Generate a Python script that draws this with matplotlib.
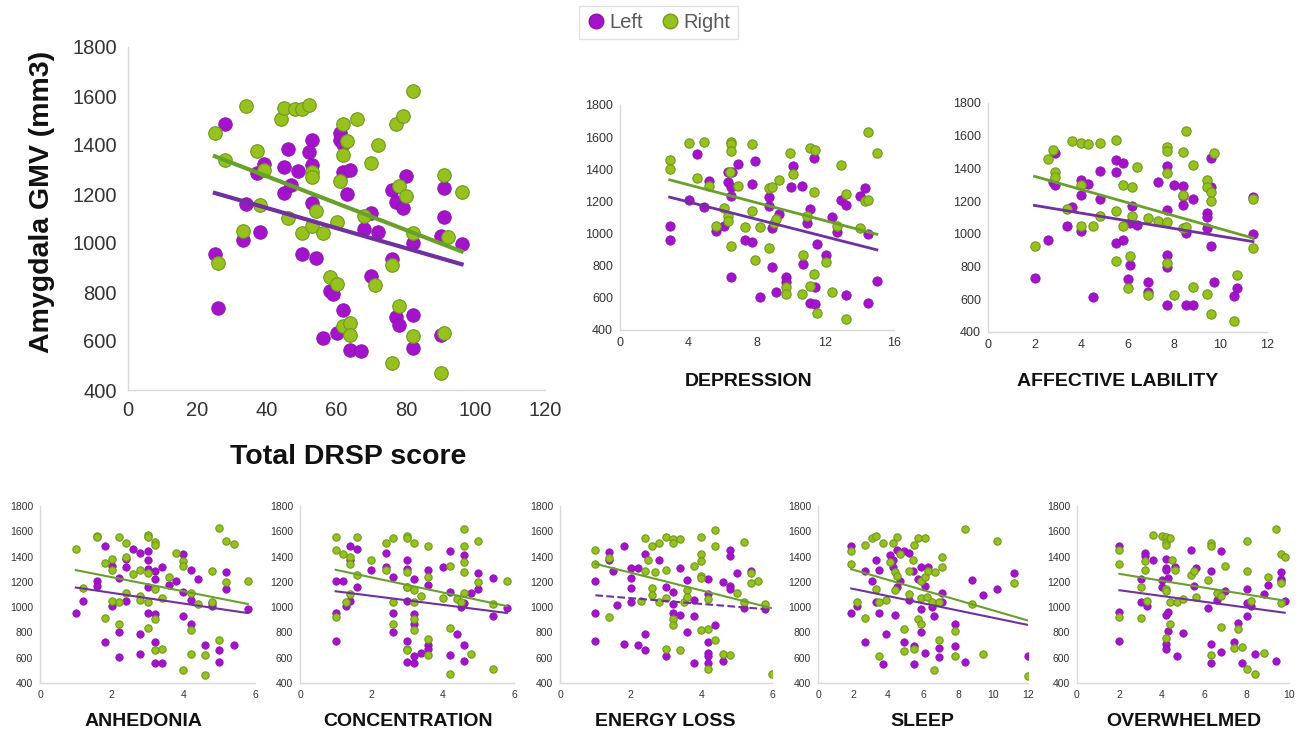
import numpy as np
import matplotlib
matplotlib.use('Agg')
import matplotlib.pyplot as plt
from matplotlib.lines import Line2D

plt.rcParams['font.family'] = ['Liberation Sans', 'DejaVu Sans']

# ---- data (x score, GMV) ----
total_left_x = [28, 25, 26, 34, 33, 38, 37, 39, 45, 46, 45, 47, 49, 53, 52, 53, 53, 50, 54, 56, 58, 59,
                61, 61, 62, 62, 64, 63, 62, 60, 64, 67, 70, 72, 68, 70, 76, 77, 79, 80, 76, 77, 78, 82,
                82, 82, 91, 91, 90, 90, 96]
total_left_y = [1487, 957, 733, 1161, 1012, 1046, 1284, 1322, 1311, 1383, 1206, 1236, 1294, 1422, 1372,
                1318, 1165, 957, 940, 611, 805, 792, 1447, 1419, 1406, 1290, 1297, 1202, 726, 634, 563,
                559, 1123, 1046, 1059, 865, 1218, 1168, 1141, 1273, 933, 699, 665, 706, 570, 1001, 1107,
                1224, 1028, 624, 994]
total_right_x = [25, 26, 28, 34, 33, 37, 39, 38, 44, 45, 48, 50, 52, 46, 50, 53, 53, 54, 53, 56, 58, 60,
                 60, 61, 62, 63, 62, 62, 64, 64, 66, 70, 72, 68, 71, 77, 79, 82, 78, 80, 76, 78, 76, 82,
                 82, 91, 92, 96, 91, 90]
total_right_y = [1449, 919, 1338, 1558, 1048, 1376, 1297, 1154, 1508, 1553, 1545, 1546, 1562, 1104, 1039,
                 1290, 1270, 1130, 1070, 1039, 862, 831, 1086, 1252, 1485, 1416, 1361, 661, 672, 624, 1508,
                 1328, 1399, 1110, 827, 1485, 1520, 1619, 1234, 1192, 912, 742, 509, 620, 1042, 1279, 1023,
                 1209, 631, 471]

dep_left_x = [2.9, 2.9, 4, 4.5, 4.9, 5.2, 5.6, 6.1, 6.3, 6.3, 6.5, 6.55, 6.5, 6.5, 6.9, 7.3, 7.7, 7.7, 7.9,
              8.2, 8.7, 8.7, 8.9, 8.9, 9.1, 9.3, 9.7, 9.7, 10, 10.1, 10.6, 10.7, 10.9, 11.1, 11.1, 11.3,
              11.4, 11.4, 11.5, 12, 12.4, 12.7, 12.9, 13.2, 13.2, 14, 14.3, 14.5, 14.5, 15]
dep_left_y = [1049, 960, 1209, 1493, 1167, 1329, 1018, 1049, 1385, 1323, 1292, 1381, 1234, 727, 1433, 960,
              1306, 945, 1454, 607, 1225, 1171, 1032, 794, 638, 1122, 732, 700, 1292, 1420, 1298, 808,
              1063, 1151, 566, 1468, 669, 562, 935, 866, 1105, 1008, 1209, 1178, 617, 1234, 1281, 997,
              570, 705]
dep_right_x = [2.9, 2.9, 4, 4.5, 4.9, 5.2, 5.6, 6.1, 6.3, 6.3, 6.4, 6.5, 6.5, 6.5, 6.5, 6.9, 7.3, 7.7, 7.7,
               7.9, 8.2, 8.7, 8.9, 8.7, 9, 9.1, 9.3, 9.7, 9.7, 9.9, 10.1, 10.6, 10.7, 10.9, 11.1, 11.4,
               11.3, 11.1, 11.3, 11.5, 12, 12.4, 12.7, 12.9, 13.2, 13.2, 14, 14.3, 14.5, 14.5, 15]
dep_right_y = [1458, 1402, 1561, 1348, 1568, 1298, 1049, 1157, 1109, 1078, 1385, 1572, 1555, 1514, 924,
               1298, 1043, 1555, 1142, 835, 1043, 1281, 1288, 912, 1068, 1090, 1333, 665, 624, 1499, 1371,
               624, 866, 1111, 1530, 1520, 1261, 676, 748, 503, 821, 634, 1047, 1427, 1244, 466, 1032,
               1205, 1209, 1630, 1499]

aff_left_x = [2, 2.6, 2.8, 2.9, 2.9, 3.4, 3.6, 4, 4, 4, 4.3, 4.5, 4.8, 4.8, 5.5, 5.5, 5.8, 5.5, 5.8, 6,
              6.1, 6.2, 6.1, 6.4, 6.9, 6.9, 7.3, 7.7, 7.7, 7.7, 7.7, 7.7, 8, 8.4, 8.4, 8.4, 8.5, 8.5, 8.8,
              8.8, 9.4, 9.4, 9.4, 9.6, 9.6, 9.6, 9.7, 10.6, 10.7, 11.4, 11.4]
aff_left_y = [733, 962, 1320, 1493, 1299, 1048, 1162, 1330, 1238, 1019, 1305, 611, 1385, 1211, 1453, 1381,
              1432, 946, 962, 727, 809, 1173, 1064, 1054, 707, 645, 1316, 1416, 1146, 870, 799, 564, 1299,
              1293, 1177, 1232, 1003, 568, 564, 1211, 1126, 1105, 1034, 1463, 1285, 927, 707, 621, 666,
              1228, 997]
aff_right_x = [2, 2.6, 2.8, 2.9, 2.9, 3.4, 3.6, 4, 4, 4, 4.3, 4.5, 4.8, 4.8, 5.5, 5.5, 5.5, 5.8, 5.8, 6,
               6.1, 6.2, 6.2, 6.4, 6.9, 6.9, 7.3, 7.7, 7.7, 7.7, 7.7, 7.7, 8, 8.4, 8.4, 8.4, 8.5, 8.5,
               8.8, 8.8, 9.4, 9.4, 9.4, 9.6, 9.6, 9.6, 9.7, 10.6, 10.7, 11.4, 11.4]
aff_right_y = [925, 1459, 1514, 1381, 1346, 1152, 1569, 1555, 1299, 1050, 1551, 1048, 1555, 1111, 1575,
               1142, 835, 1299, 1048, 666, 866, 1285, 1109, 1406, 1095, 625, 1081, 1530, 1508, 1371, 1070,
               823, 625, 1498, 1238, 1034, 1044, 1626, 1422, 676, 1330, 1285, 635, 1258, 1201, 508, 1493,
               467, 747, 1211, 915]

anh_left_x = [1, 1.2, 1.6, 1.6, 1.8, 1.8, 2, 2, 2.2, 2.2, 2.2, 2.4, 2.4, 2.4, 2.6, 2.8, 2.8, 2.8, 3, 3, 3,
              3, 3, 3.2, 3.2, 3.2, 3.2, 3.2, 3.4, 3.4, 3.6, 3.8, 4, 4, 4, 4.2, 4.2, 4.2, 4.4, 4.6, 4.8,
              4.8, 5, 5, 5.2, 5.2, 5.4, 5.8]
anh_left_y = [957, 1047, 1208, 1166, 1486, 725, 1325, 1010, 1232, 804, 606, 1380, 1314, 1047, 1459, 1430,
              786, 633, 1446, 1372, 1301, 1161, 957, 1288, 1222, 942, 725, 559, 559, 1314, 1174, 1206,
              1417, 1121, 931, 1293, 1060, 865, 1222, 699, 1010, 1029, 664, 566, 1280, 1142, 699, 989]
anh_right_x = [1, 1.2, 1.6, 1.6, 1.8, 1.8, 2, 2, 2, 2.2, 2.2, 2.2, 2.4, 2.4, 2.4, 2.6, 2.8, 2.8, 2.8, 3, 3,
               3, 3, 3, 3.2, 3.2, 3.2, 3.2, 3.2, 3.4, 3.4, 3.6, 3.8, 4, 4, 4, 4.2, 4.2, 4.2, 4.4, 4.6,
               4.6, 4.8, 4.8, 5, 5, 5.2, 5.2, 5.4, 5.8]
anh_right_y = [1457, 1153, 1565, 1552, 1346, 918, 1377, 1293, 1047, 1552, 865, 1042, 1509, 1398, 1108,
               1259, 1293, 1087, 1060, 1570, 1552, 1274, 1042, 836, 1512, 1491, 1140, 910, 664, 1076, 672,
               1240, 1425, 1364, 1325, 500, 1108, 817, 627, 1023, 619, 466, 1285, 1042, 1628, 743, 1525,
               1195, 1496, 1208]

con_left_x = [1, 1, 1, 1.2, 1.3, 1.4, 1.4, 1.4, 1.6, 1.6, 2, 2.4, 2.4, 2.6, 2.6, 2.6, 3, 3, 3, 3, 3, 3,
              3.2, 3.2, 3.2, 3.2, 3.2, 3.4, 3.6, 3.6, 3.6, 3.6, 4, 4.2, 4.2, 4.2, 4.4, 4.5, 4.6, 4.6,
              4.6, 4.6, 4.8, 5, 5, 5.4, 5.4, 5.8]
con_left_y = [1208, 957, 730, 1208, 1010, 1483, 1372, 1047, 1457, 1161, 1293, 1425, 1319, 1235, 957, 804,
              1372, 1298, 1161, 1047, 730, 566, 1222, 944, 865, 559, 614, 638, 1293, 1174, 704, 672,
              1314, 1443, 1121, 619, 791, 1002, 1412, 1034, 704, 572, 1108, 1274, 1142, 1227, 931, 994]
con_right_x = [1, 1, 1, 1.2, 1.3, 1.4, 1.4, 1.4, 1.6, 1.6, 2, 2.4, 2.4, 2.6, 2.6, 2.6, 3, 3, 3, 3, 3, 3,
               3.2, 3.2, 3.2, 3.2, 3.2, 3.4, 3.6, 3.6, 3.6, 3.6, 4, 4.2, 4.2, 4.2, 4.4, 4.5, 4.6, 4.6,
               4.6, 4.6, 4.6, 4.8, 5, 5, 5.4, 5.4, 5.8]
con_right_y = [1552, 1451, 923, 1417, 1042, 1398, 1340, 1103, 1557, 1253, 1372, 1504, 1293, 1549, 1042,
               865, 1565, 1549, 1280, 1161, 672, 659, 1509, 1134, 1042, 910, 817, 1089, 1486, 1235, 746,
               619, 1074, 1325, 836, 469, 1063, 1037, 1618, 1486, 1359, 1280, 1108, 633, 1523, 1195, 1023,
               514, 1208]

eng_left_x = [1, 1, 1, 1.4, 1.4, 1.5, 1.6, 1.8, 1.8, 2, 2, 2, 2, 2.2, 2.2, 2.4, 2.4, 2.4, 2.8, 3, 3,
              3.2, 3.2, 3.2, 3.4, 3.4, 3.6, 3.6, 3.8, 3.8, 3.8, 4.2, 4.2, 4.2, 4.2, 4.2, 4.2, 4.4, 4.6,
              4.6, 4.8, 4.8, 4.8, 4.8, 5, 5.2, 5.4, 5.8]
eng_left_y = [1206, 957, 730, 1438, 1372, 1285, 1015, 1483, 707, 1311, 1232, 1153, 1042, 1311, 699, 1417,
              791, 664, 1372, 1161, 614, 1121, 1023, 955, 1306, 936, 1214, 804, 1055, 928, 559, 1219,
              1103, 725, 638, 614, 561, 862, 1201, 572, 1451, 1406, 1169, 1142, 1267, 996, 1285, 989]
eng_right_x = [1, 1, 1.4, 1.4, 2.4, 2.4, 2.3, 2.5, 2.6, 2.6, 2.6, 2.8, 2.7, 2.8, 3, 3, 3, 3, 3.2, 3.2,
               3.2, 3.2, 3.4, 3.4, 3.5, 3.6, 3.6, 3.8, 4, 4, 4, 4, 4, 4, 4.2, 4.2, 4.2, 4.4, 4.4, 4.4,
               4.6, 4.8, 5, 5.2, 5.2, 5.4, 5.4, 5.6, 5.8, 6]
eng_right_y = [1451, 1340, 1390, 923, 1549, 1285, 1047, 1372, 1483, 1148, 1100, 1504, 1280, 1037, 1557,
               1293, 1074, 672, 1538, 1504, 910, 862, 1538, 664, 1037, 1134, 1082, 1325, 1557, 1417, 1364,
               1248, 1227, 817, 1063, 831, 508, 1610, 1483, 743, 633, 625, 1108, 1512, 1042, 1274, 1193,
               1206, 1023, 474]

slp_left_x = [1.9, 1.9, 2.2, 2.7, 2.7, 3.1, 3.3, 3.3, 3.5, 3.5, 3.7, 3.9, 4.1, 4.3, 4.3, 4.4, 4.5, 4.5,
              4.7, 4.9, 4.9, 5.2, 5.2, 5.4, 5.5, 5.5, 5.7, 5.9, 5.9, 5.9, 6.1, 6.1, 6.3, 6.5, 6.6, 6.9,
              6.9, 7.1, 7.1, 7.8, 7.8, 8.4, 8.8, 9.4, 10.2, 11.2, 12]
slp_left_y = [1482, 957, 1011, 1286, 728, 1205, 1375, 1043, 1294, 957, 553, 788, 1415, 1375, 1315, 938,
              1159, 1455, 1208, 1442, 723, 1428, 1057, 1286, 693, 553, 1226, 1315, 984, 804, 1167, 634,
              1321, 1003, 930, 680, 602, 1113, 1043, 863, 696, 567, 1218, 1097, 1140, 1272, 615]
slp_right_x = [1.9, 1.9, 2.2, 2.7, 2.7, 3.1, 3.3, 3.3, 3.5, 3.5, 3.7, 3.9, 4.1, 4.3, 4.4, 4.4, 4.5, 4.5,
               4.7, 4.9, 4.9, 5.2, 5.2, 5.4, 5.5, 5.5, 5.7, 5.7, 5.9, 5.9, 5.9, 6.1, 6.1, 6.2, 6.3, 6.5,
               6.6, 6.7, 6.9, 6.9, 7.1, 7.1, 7.8, 7.8, 8.4, 8.8, 9.4, 10.2, 11.2, 12]
slp_right_y = [1447, 1340, 1043, 1488, 917, 1544, 1563, 1146, 1038, 615, 1509, 1060, 1361, 1504, 1132,
               1280, 1558, 1248, 1420, 831, 656, 1288, 1105, 1375, 1488, 669, 1550, 909, 1208, 1073, 863,
               1544, 1235, 1078, 1286, 1038, 500, 1280, 1038, 742, 1393, 1321, 815, 615, 1617, 1025, 629,
               1523, 1191, 459]

ovw_left_x = [2, 2, 2, 3, 3, 3.2, 3.2, 3.3, 3.6, 4, 4, 4.2, 4.2, 4.2, 4.2, 4.2, 4.2, 4.3, 4.3, 4.3, 4.6,
              4.7, 5, 5.4, 5.6, 5.5, 6.2, 6.3, 6.3, 6.3, 6.6, 6.8, 6.8, 7, 7.6, 7.4, 7.8, 8, 8, 8, 8.2,
              8.4, 8.8, 9, 9.4, 9.6, 9.6, 9.6, 9.8]
ovw_left_y = [1487, 965, 734, 1225, 1044, 1429, 1402, 1012, 1376, 1211, 1158, 1381, 1310, 1291, 938, 707,
              665, 1230, 960, 814, 1318, 615, 792, 1455, 1310, 1164, 997, 1288, 705, 561, 1057, 1447, 642,
              1124, 872, 726, 561, 1142, 1031, 930, 1010, 628, 1105, 1172, 572, 1278, 1222, 1203, 1050]
ovw_right_x = [2, 2, 2, 3, 3, 3.2, 3.2, 3.3, 3.6, 4, 4.2, 4.2, 4.2, 4.2, 4.2, 4.2, 4.4, 4.4, 4.4, 4.5,
               4.6, 4.7, 5, 5.4, 5.5, 5.6, 6.2, 6.3, 6.3, 6.3, 6.6, 6.8, 6.8, 7, 7.4, 7.6, 7.8, 8, 8, 8,
               8.2, 8.4, 8.8, 9, 9.4, 9.6, 9.6, 9.6, 9.8]
ovw_right_y = [1455, 1344, 925, 1156, 912, 1291, 1368, 1050, 1567, 1561, 1556, 1516, 1490, 1145, 1124,
               753, 1548, 1044, 867, 1376, 1296, 1044, 1065, 1256, 1283, 1082, 1211, 1508, 1487, 625,
               1110, 1089, 840, 1328, 673, 824, 684, 1522, 1283, 509, 1050, 474, 639, 1235, 1620, 1421,
               1190, 1031, 1397]

purple = '#A313C9'
purple_edge = '#8E12B0'
purple_line = '#7030A0'
green = '#96C11F'
green_edge = '#6F9A1C'
green_line = '#68A02C'
tick_col = '#333333'

fig = plt.figure(figsize=(13.11, 7.37), dpi=100)
W, H = 1311, 737


def make_ax(x0, x1, y0, y1):
    # pixel box -> figure fractions
    return fig.add_axes([x0 / W, 1 - y1 / H, (x1 - x0) / W, (y1 - y0) / H])


def panel(ax, lx, ly, rx, ry, xmax, xstep, ms, lw, fs, left_dashed=False):
    ax.scatter(lx, ly, s=ms, color=purple, edgecolor=purple_edge, linewidth=0.6, zorder=3)
    ax.scatter(rx, ry, s=ms, color=green, edgecolor=green_edge, linewidth=0.8, zorder=3)
    for xs, ys, c, ls in [(lx, ly, purple_line, '--' if left_dashed else '-'),
                          (rx, ry, green_line, '-')]:
        k, b = np.polyfit(xs, ys, 1)
        xx = np.array([min(xs), max(xs)])
        ax.plot(xx, k * xx + b, color=c, lw=lw, ls=ls, zorder=4)
    ax.set_xlim(0, xmax)
    ax.set_ylim(400, 1800)
    ax.set_xticks(np.arange(0, xmax + 0.01, xstep))
    ax.set_yticks(np.arange(400, 1801, 200))
    for s in ['top', 'right']:
        ax.spines[s].set_visible(False)
    for s in ['left', 'bottom']:
        ax.spines[s].set_color('#D9D9D9')
        ax.spines[s].set_linewidth(1.0)
    ax.tick_params(length=0, labelsize=fs, labelcolor=tick_col, pad=5)
    ax.set_facecolor('none')


# main panel
ax0 = make_ax(128, 545, 47, 390)
panel(ax0, total_left_x, total_left_y, total_right_x, total_right_y, 120, 20, 95, 3.0, 14.5)
ax0.tick_params(pad=8)
ax0.set_xlabel('Total DRSP score', fontsize=20.5, fontweight='bold', color='#111111')
ax0.xaxis.set_label_coords(0.528, -0.158)
ax0.set_ylabel('Amygdala GMV (mm3)', fontsize=20.5, fontweight='bold', color='#111111')
ax0.yaxis.set_label_coords(-0.174, 0.548)

# upper small panels
ax1 = make_ax(620, 894, 105, 330)
panel(ax1, dep_left_x, dep_left_y, dep_right_x, dep_right_y, 16, 4, 45, 2.0, 9)
ax1.set_xlabel('DEPRESSION', fontsize=14, fontweight='bold', color='#111111')
ax1.xaxis.set_label_coords(0.47, -0.19)

ax2 = make_ax(988, 1267, 103, 332)
panel(ax2, aff_left_x, aff_left_y, aff_right_x, aff_right_y, 12, 2, 45, 2.0, 9)
ax2.set_xlabel('AFFECTIVE LABILITY', fontsize=14, fontweight='bold', color='#111111')
ax2.xaxis.set_label_coords(0.466, -0.18)

# bottom row
bottom = [
    (40, 255, anh_left_x, anh_left_y, anh_right_x, anh_right_y, 6, 2, 'ANHEDONIA', False, 0.48),
    (300, 514, con_left_x, con_left_y, con_right_x, con_right_y, 6, 2, 'CONCENTRATION', False, 0.505),
    (560, 772, eng_left_x, eng_left_y, eng_right_x, eng_right_y, 6, 2, 'ENERGY LOSS', True, 0.495),
    (818, 1028, slp_left_x, slp_left_y, slp_right_x, slp_right_y, 12, 2, 'SLEEP', False, 0.495),
    (1077, 1289, ovw_left_x, ovw_left_y, ovw_right_x, ovw_right_y, 10, 2, 'OVERWHELMED', False, 0.505),
]
for x0, x1, lx, ly, rx, ry, xmax, step, name, dashed, lx_pos in bottom:
    ax = make_ax(x0, x1, 506, 683)
    panel(ax, lx, ly, rx, ry, xmax, step, 28, 1.5, 7.5, left_dashed=dashed)
    ax.set_xlabel(name, fontsize=14, fontweight='bold', color='#111111')
    ax.xaxis.set_label_coords(lx_pos, -0.17)

handles = [Line2D([], [], ls='none', marker='o', markersize=10.5, markerfacecolor=purple,
                  markeredgecolor=purple_edge, label='Left'),
           Line2D([], [], ls='none', marker='o', markersize=10.5, markerfacecolor=green,
                  markeredgecolor=green_edge, label='Right')]
leg = fig.legend(handles=handles, loc='upper center', bbox_to_anchor=(0.502, 1.006), ncol=2,
                 fontsize=14.5, frameon=True, fancybox=False, handletextpad=0.2, columnspacing=0.8,
                 borderpad=0.35, handlelength=1.0)
leg.get_frame().set_edgecolor('#D9D9D9')
leg.get_frame().set_linewidth(1.0)
for t in leg.get_texts():
    t.set_color('#595959')

fig.savefig('out.png', dpi=100)
